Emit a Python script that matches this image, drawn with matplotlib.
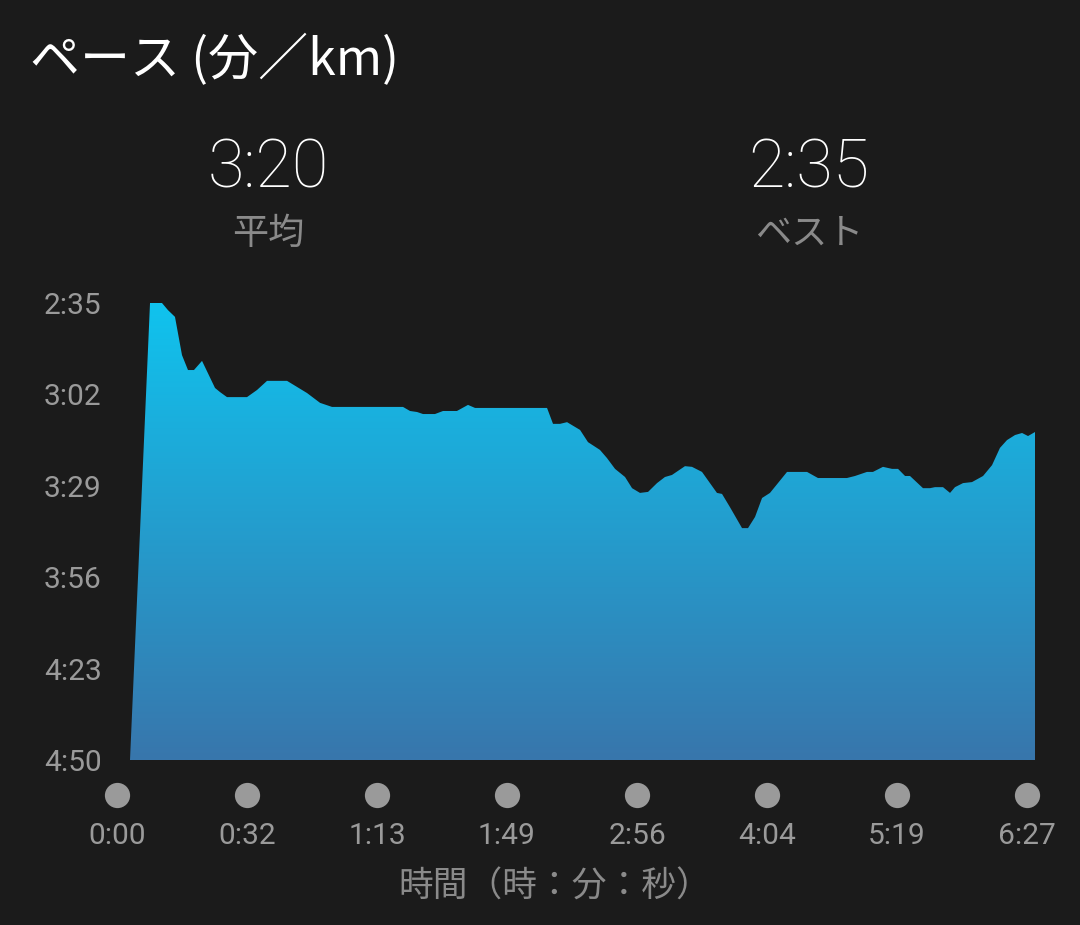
#!/usr/bin/env python3
"""Pace chart (ペース) recreated from a running-watch screenshot."""

import matplotlib

matplotlib.use("Agg")
import matplotlib.pyplot as plt
import numpy as np
from matplotlib.colors import LinearSegmentedColormap

# x is the position along the track in units of the tick spacing (ticks at 0..7)
dist = [0.10, 0.254, 0.346, 0.392, 0.446, 0.50, 0.546, 0.592, 0.654, 0.754,
        0.792, 0.846, 1.00, 1.077, 1.154, 1.308, 1.462, 1.562, 1.654, 2.20,
        2.254, 2.308, 2.354, 2.446, 2.508, 2.615, 2.70, 2.754, 3.308, 3.354,
        3.408, 3.462, 3.562, 3.623, 3.715, 3.769, 3.831, 3.908, 3.962, 4.023,
        4.085, 4.154, 4.215, 4.269, 4.369, 4.423, 4.50, 4.615, 4.654, 4.715,
        4.808, 4.854, 4.908, 4.962, 5.023, 5.154, 5.308, 5.392, 5.615, 5.677,
        5.769, 5.815, 5.892, 5.962, 6.008, 6.062, 6.10, 6.20, 6.254, 6.292,
        6.354, 6.408, 6.446, 6.508, 6.577, 6.662, 6.731, 6.792, 6.846, 6.908,
        6.962, 7.008, 7.062]
# pace in seconds per km
pace_sec = [290, 155, 155, 157.1, 159.1, 170.4, 174.8, 174.8, 172.1, 180.1,
            181.3, 182.8, 182.8, 180.7, 178.0, 178.0, 181.6, 184.5, 185.7, 185.7,
            186.9, 187.2, 187.8, 187.8, 186.9, 186.9, 185.1, 186.0, 186.0, 190.7,
            190.7, 190.2, 192.5, 196.1, 198.4, 200.8, 204.0, 206.4, 209.7, 211.1,
            210.8, 208.2, 206.4, 205.8, 203.2, 203.4, 204.9, 211.1, 211.4, 215.3,
            221.5, 221.5, 218.2, 212.6, 211.1, 204.9, 204.9, 206.7, 206.7, 206.1,
            204.9, 204.9, 203.4, 204.0, 204.0, 206.1, 206.1, 209.7, 209.7, 209.4,
            209.4, 211.1, 209.4, 208.2, 207.9, 206.1, 202.9, 197.8, 195.5, 194.0,
            193.4, 194.3, 193.1]

pace_ticks = [155, 182, 209, 236, 263, 290]
pace_labels = ["2:35", "3:02", "3:29", "3:56", "4:23", "4:50"]
time_labels = ["0:00", "0:32", "1:13", "1:49", "2:56", "4:04", "5:19", "6:27"]

avg_pace = "3:20"
best_pace = "2:35"

BG = "#1b1b1b"
GREY = "#9a9a9a"
LABEL_GREY = "#8a8a8a"

W, H = 1080, 925
fig = plt.figure(figsize=(W / 100, H / 100), dpi=100, facecolor=BG)

left_px, right_px, top_px, bot_px = 117, 1035, 303, 760
ax = fig.add_axes([left_px / W, 1 - bot_px / H, (right_px - left_px) / W, (bot_px - top_px) / H])
ax.set_facecolor(BG)
xlim = (0, (right_px - left_px) / 130)

coll = ax.fill_between(dist, pace_sec, 290, facecolor="none", edgecolor="none")
cmap = LinearSegmentedColormap.from_list("pace", ["#10c3ee", "#3876ac"])
grad = np.linspace(0, 1, 256).reshape(-1, 1)
im = ax.imshow(grad, cmap=cmap, aspect="auto", extent=[*xlim, 290, 155],
               origin="upper", zorder=1)
im.set_clip_path(coll.get_paths()[0], transform=ax.transData)
ax.set_xlim(*xlim)
ax.set_ylim(290, 155)

for s in ax.spines.values():
    s.set_visible(False)

ax.set_yticks(pace_ticks, pace_labels, family="Roboto", fontsize=21.5, color=GREY)
ax.tick_params(axis="y", length=0, pad=11)

ticks_x = range(len(time_labels))
ax.set_xticks(list(ticks_x), time_labels, family="Roboto", fontsize=21.5, color=GREY)
ax.tick_params(axis="x", length=0, pad=45)
ax.scatter(list(ticks_x), [-0.077] * len(time_labels), s=330, color=GREY,
           transform=ax.get_xaxis_transform(), clip_on=False, zorder=3, linewidths=0)

cjk = ["Noto Sans CJK JP", "DejaVu Sans"]
fig.text(555 / W, 1 - 887 / H, "時間（時：分：秒）", family=cjk, fontsize=25,
         color=LABEL_GREY, ha="center", va="center")

fig.text(30 / W, 1 - 61 / H, "ペース (分／km)", family=cjk, fontsize=36,
         color="white", ha="left", va="center")

fig.text(268 / W, 1 - 170 / H, avg_pace, family="Roboto", weight="light",
         fontsize=48, color="white", ha="center", va="center")
fig.text(268 / W, 1 - 234 / H, "平均", family=cjk, fontsize=26,
         color=LABEL_GREY, ha="center", va="center")
fig.text(809 / W, 1 - 170 / H, best_pace, family="Roboto", weight="light",
         fontsize=48, color="white", ha="center", va="center")
fig.text(809 / W, 1 - 234 / H, "ベスト", family=cjk, fontsize=26,
         color=LABEL_GREY, ha="center", va="center")

fig.savefig("out.png", dpi=100, facecolor=BG)
